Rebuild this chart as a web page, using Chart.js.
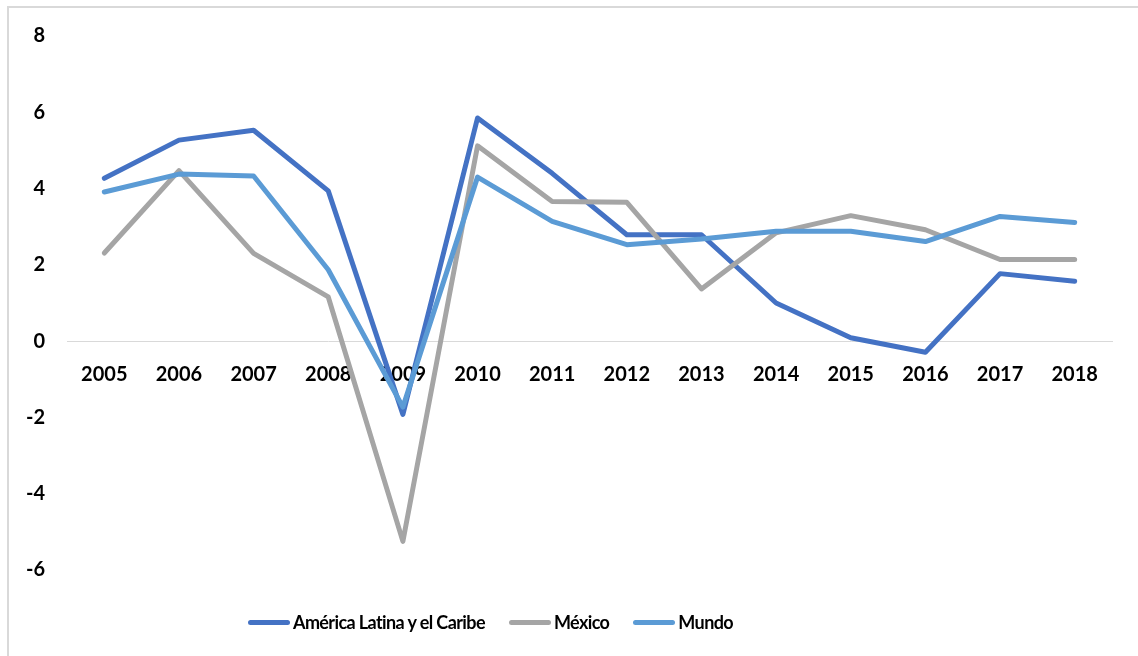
<!DOCTYPE html>
<html>
<head>
<meta charset="utf-8">
<script src="https://cdn.jsdelivr.net/npm/chart.js@4/dist/chart.umd.min.js"></script>
<style>
  html, body { margin: 0; padding: 0; background: #fff; }
  #wrap { position: relative; width: 1138px; height: 656px; overflow: hidden; }
  #frame { position: absolute; left: 7px; top: 6px; width: 1200px; height: 700px; border: 2px solid #d9d9d9; box-sizing: border-box; }
  #c { position: absolute; left: 0; top: 0; }
  #legend { position: absolute; left: 248px; top: 609px; display: flex; align-items: center; font-family: Lato, sans-serif; font-weight: bold; font-size: 18px; letter-spacing: -0.6px; color: #000; height: 26px; }
  .item { display: flex; align-items: center; margin-right: 24px; }
  .swatch { width: 42px; height: 5px; border-radius: 3px; margin-right: 3px; }
</style>
</head>
<body>
<div id="wrap">
  <div id="frame"></div>
  <canvas id="c" width="1138" height="656"></canvas>
  <div id="legend"></div>
</div>
<script>
const years = ["2005","2006","2007","2008","2009","2010","2011","2012","2013","2014","2015","2016","2017","2018"];
const americaLatina = [4.27, 5.27, 5.53, 3.94, -1.92, 5.85, 4.40, 2.79, 2.79, 1.00, 0.09, -0.29, 1.77, 1.57];
const mexico = [2.31, 4.47, 2.30, 1.16, -5.25, 5.12, 3.66, 3.64, 1.37, 2.84, 3.29, 2.92, 2.14, 2.14];
const mundo = [3.91, 4.38, 4.33, 1.87, -1.73, 4.30, 3.14, 2.53, 2.68, 2.88, 2.88, 2.61, 3.27, 3.11];
const yTicks = [-6, -4, -2, 0, 2, 4, 6, 8];

const seriesNames = ["América Latina y el Caribe", "México", "Mundo"];
const colors = ["#4472C4", "#A5A5A5", "#5B9BD5"];
const seriesData = [americaLatina, mexico, mundo];

const tickFont = { family: "Lato", weight: "bold", size: 20 };

const datasets = seriesData.map((d, i) => ({
  label: seriesNames[i],
  data: d,
  borderColor: colors[i],
  backgroundColor: colors[i],
  borderWidth: 5,
  pointRadius: 0,
  pointHoverRadius: 0,
  tension: 0,
  fill: false,
  borderCapStyle: "round",
  borderJoinStyle: "round",
  order: 2 - i
}));

new Chart(document.getElementById("c"), {
  type: "line",
  data: { labels: years, datasets },
  options: {
    responsive: false,
    animation: false,
    events: [],
    layout: { padding: { top: 36, bottom: 86, left: 0, right: 26 } },
    plugins: { legend: { display: false }, tooltip: { enabled: false } },
    scales: {
      x: {
        type: "category",
        position: { y: 0 },
        offset: true,
        grid: { drawOnChartArea: false, drawTicks: false, offset: true },
        border: { display: true, color: "#d9d9d9", width: 1 },
        ticks: { font: tickFont, color: "#000", padding: 21, maxRotation: 0, autoSkip: false },
        afterFit: (s) => { s.height = 0; }
      },
      y: {
        min: -6,
        max: 8,
        grid: { display: false, drawTicks: false },
        border: { display: false },
        afterBuildTicks: (s) => { s.ticks = yTicks.map(v => ({ value: v })); },
        ticks: { font: tickFont, color: "#000", padding: 22 },
        afterFit: (s) => { s.width = 67; }
      }
    }
  }
});

const legend = document.getElementById("legend");
seriesNames.forEach((name, i) => {
  const item = document.createElement("div");
  item.className = "item";
  const sw = document.createElement("span");
  sw.className = "swatch";
  sw.style.background = colors[i];
  const tx = document.createElement("span");
  tx.textContent = name;
  item.appendChild(sw);
  item.appendChild(tx);
  legend.appendChild(item);
});
</script>
</body>
</html>
